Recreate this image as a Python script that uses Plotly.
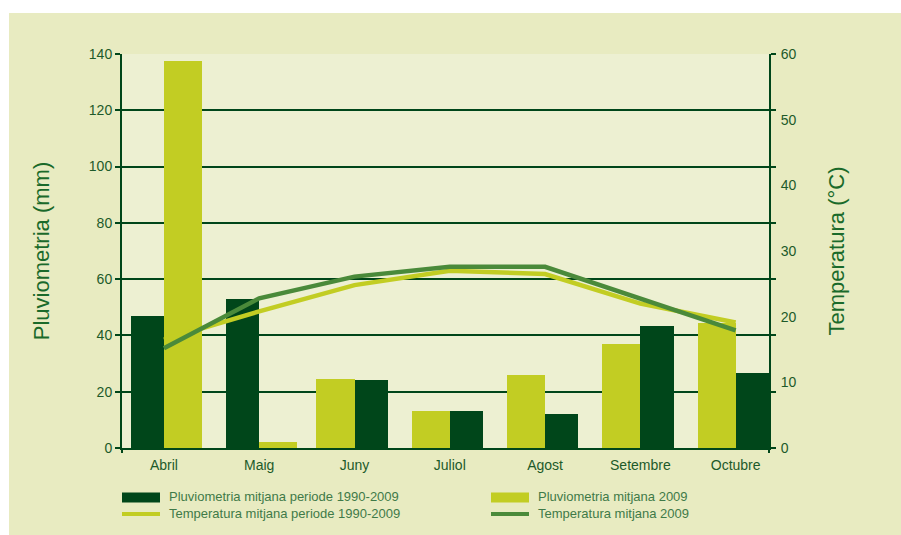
import plotly.graph_objects as go

months = ["Abril", "Maig", "Juny", "Juliol", "Agost", "Setembre", "Octubre"]
rain_1990_2009 = [47.0, 53.0, 24.0, 13.3, 12.2, 43.4, 26.7]
rain_2009 = [137.5, 2.0, 24.5, 13.3, 26.0, 37.0, 44.5]
temp_1990_2009 = [16.5, 20.8, 24.8, 27.0, 26.5, 22.0, 19.1]
temp_2009 = [15.2, 22.8, 26.1, 27.6, 27.6, 22.7, 17.9]
y_left_ticks = [0, 20, 40, 60, 80, 100, 120, 140]
y_right_ticks = [0, 10, 20, 30, 40, 50, 60]

# which series is drawn on the left of each month pair (style only)
dark_first = [True, True, False, False, False, False, False]

DARK = "#00461a"
LIGHT = "#c2cd23"
MID = "#4a8a3a"
TXT = "#1d5a2a"
LEG = "#3f7a48"
TITLE = "#1a6a2a"
PLOT_BG = "#edf0d2"
OUTER_BG = "#e8ebc1"
FONT = "Liberation Sans, Arial, sans-serif"

W_DARK = 0.35
W_LIGHT = 0.40

fig = go.Figure()
fig.add_trace(go.Bar(
    x=months, y=rain_1990_2009, name="Pluviometria mitjana periode 1990-2009",
    marker=dict(color=DARK, line=dict(width=0)),
    width=W_DARK, offset=[-W_DARK if d else 0 for d in dark_first],
    showlegend=False, yaxis="y"))
fig.add_trace(go.Bar(
    x=months, y=rain_2009, name="Pluviometria mitjana 2009",
    marker=dict(color=LIGHT, line=dict(width=0)),
    width=W_LIGHT, offset=[0 if d else -W_LIGHT for d in dark_first],
    showlegend=False, yaxis="y"))
fig.add_trace(go.Scatter(
    x=months, y=temp_1990_2009, name="Temperatura mitjana periode 1990-2009",
    mode="lines", line=dict(color=LIGHT, width=4.5), showlegend=False, yaxis="y2"))
fig.add_trace(go.Scatter(
    x=months, y=temp_2009, name="Temperatura mitjana 2009",
    mode="lines", line=dict(color=MID, width=4.5), showlegend=False, yaxis="y2"))

L, R, T, B = 122, 132, 54, 87
W, H = 901, 535
pw, ph = W - L - R, H - T - B

def px(xp):
    return (xp - L) / pw

def py(yp):
    return (H - B - yp) / ph

shapes = [
    dict(type="rect", xref="paper", yref="paper", x0=px(9), x1=px(905), y0=py(540), y1=py(13),
         fillcolor=OUTER_BG, line=dict(width=0), layer="below"),
    dict(type="rect", xref="paper", yref="paper", x0=0, x1=1, y0=0, y1=1,
         fillcolor=PLOT_BG, line=dict(width=0), layer="below"),
    dict(type="line", xref="paper", yref="paper", x0=0, x1=0, y0=0, y1=py(453),
         line=dict(color=DARK, width=2)),
    dict(type="line", xref="paper", yref="paper", x0=1, x1=1, y0=0, y1=py(453),
         line=dict(color=DARK, width=2)),
    # legend swatches
    dict(type="rect", xref="paper", yref="paper", x0=px(122), x1=px(160), y0=py(502.5), y1=py(492.5),
         fillcolor=DARK, line=dict(width=0)),
    dict(type="line", xref="paper", yref="paper", x0=px(122), x1=px(160), y0=py(514), y1=py(514),
         line=dict(color=LIGHT, width=4)),
    dict(type="rect", xref="paper", yref="paper", x0=px(491), x1=px(529), y0=py(502.5), y1=py(492.5),
         fillcolor=LIGHT, line=dict(width=0)),
    dict(type="line", xref="paper", yref="paper", x0=px(491), x1=px(529), y0=py(514), y1=py(514),
         line=dict(color=MID, width=4)),
]

legend_items = [
    ("Pluviometria mitjana periode 1990-2009", 167, 496.5),
    ("Temperatura mitjana periode 1990-2009", 167, 513),
    ("Pluviometria mitjana 2009", 536, 496.5),
    ("Temperatura mitjana 2009", 536, 513),
]
annotations = [
    dict(text=t, xref="paper", yref="paper", x=px(x), y=py(y), xanchor="left", yanchor="middle",
         showarrow=False, font=dict(family=FONT, size=13, color=LEG))
    for t, x, y in legend_items
]

fig.update_layout(
    width=W, height=H,
    margin=dict(l=L, r=R, t=T, b=B, pad=0),
    paper_bgcolor="white", plot_bgcolor=PLOT_BG,
    barmode="overlay", bargap=0,
    font=dict(family=FONT, color=TXT),
    shapes=shapes, annotations=annotations,
    xaxis=dict(type="category", range=[-0.44, 6.35], showgrid=False, zeroline=False,
               showline=True, linecolor=DARK, linewidth=2,
               ticks="outside", ticklen=3, tickcolor="rgba(0,0,0,0)",
               tickfont=dict(family=FONT, size=14, color=TXT)),
    yaxis=dict(range=[0, 140], tickvals=y_left_ticks, showgrid=True, gridcolor=DARK, gridwidth=2,
               zeroline=False, showline=True, linecolor=DARK, linewidth=2, mirror="ticks",
               ticks="outside", ticklen=5, tickwidth=2, tickcolor=DARK,
               tickfont=dict(family=FONT, size=14, color=TXT),
               title=dict(text="Pluviometria (mm)", standoff=33,
                          font=dict(family=FONT, size=22, color=TITLE))),
    yaxis2=dict(range=[0, 60], tickvals=y_right_ticks, overlaying="y", side="right",
                showgrid=False, zeroline=False, showline=False,
                ticks="outside", ticklen=8, tickcolor="rgba(0,0,0,0)",
                tickfont=dict(family=FONT, size=14, color=TXT),
                title=dict(text="Temperatura (°C)", standoff=33,
                           font=dict(family=FONT, size=22, color=TITLE))),
)

fig.write_html("out.html", config={"displayModeBar": False},
               post_script="document.body.style.margin='0';")
